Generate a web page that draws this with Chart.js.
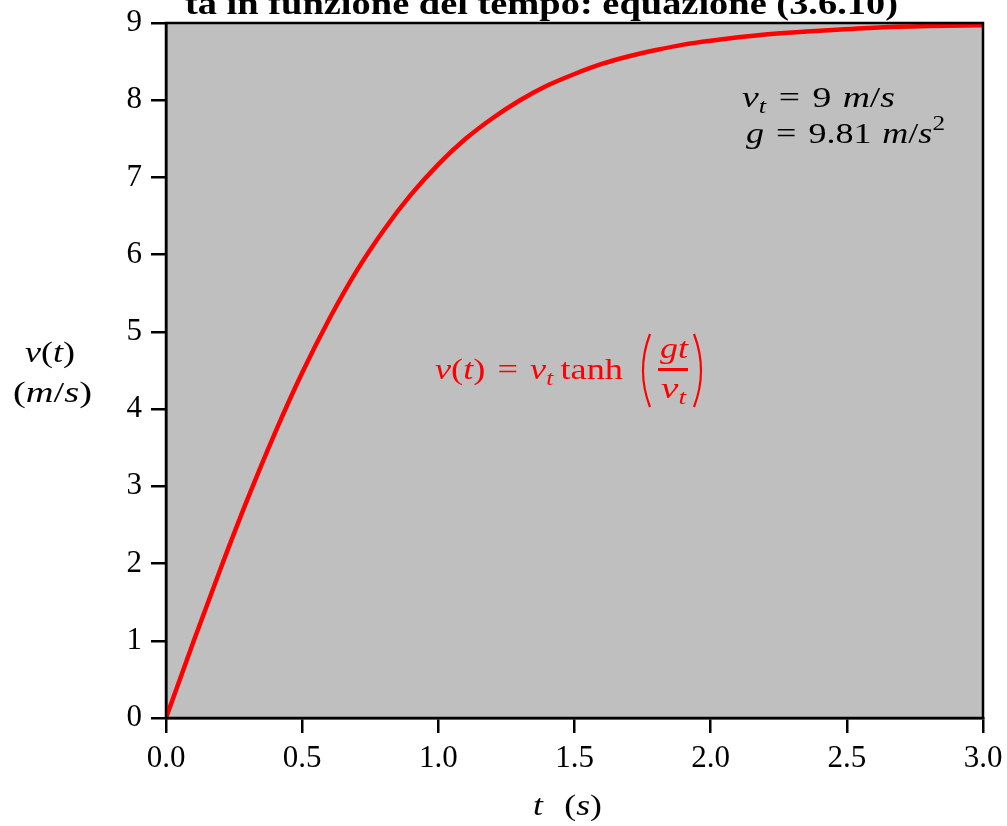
<!DOCTYPE html>
<html>
<head>
<meta charset="utf-8">
<script src="https://cdn.jsdelivr.net/npm/chart.js@4"></script>
<style>
  html, body { margin: 0; padding: 0; background: #fff; }
</style>
</head>
<body>
<canvas id="vel" width="1007" height="826"></canvas>
<script>
// values
const times = [0, 0.1, 0.2, 0.3, 0.4, 0.5, 0.6, 0.7, 0.8, 0.9, 1.0, 1.1, 1.2, 1.3, 1.4, 1.5,
  1.6, 1.7, 1.8, 1.9, 2.0, 2.2, 2.4, 2.6, 2.8, 3.0];
const speeds = [0, 0.98, 1.93, 2.84, 3.69, 4.47, 5.17, 5.79, 6.32, 6.78, 7.17, 7.50, 7.77, 8.00,
  8.19, 8.34, 8.47, 8.57, 8.65, 8.72, 8.77, 8.85, 8.90, 8.94, 8.96, 8.97];
const titleText = 'ta in funzione del tempo: equazione (3.6.10)';

const SERIF = '"Liberation Serif", "DejaVu Serif", serif';
const it = (s) => 'italic ' + s + 'px ' + SERIF;
const rm = (s) => s + 'px ' + SERIF;

// row of text pieces [text, font, dy, gapBefore], squeezed/stretched to span x0..x1
function runs(ctx, x0, x1, y, parts) {
  let w = 0;
  parts.forEach(p => { ctx.font = p[1]; w += ctx.measureText(p[0]).width + (p[3] || 0); });
  const k = (x1 - x0) / w;
  ctx.save();
  ctx.translate(x0, y);
  ctx.scale(k, 1);
  let x = 0;
  parts.forEach(p => {
    x += p[3] || 0;
    ctx.font = p[1];
    ctx.fillText(p[0], x, p[2] || 0);
    x += ctx.measureText(p[0]).width;
  });
  ctx.restore();
}

function bigParen(ctx, x, top, bot, dir) {
  // dir = 1 for '(' , -1 for ')'
  const mid = (top + bot) / 2;
  ctx.beginPath();
  ctx.moveTo(x + dir * 10, top);
  ctx.quadraticCurveTo(x - dir * 4, mid, x + dir * 10, bot);
  ctx.lineWidth = 2.2;
  ctx.stroke();
}

const decor = {
  id: 'decor',
  beforeDraw(chart) {
    const { ctx, chartArea: a } = chart;
    ctx.save();
    ctx.fillStyle = '#bfbfbf';
    ctx.fillRect(a.left, a.top, a.right - a.left, a.bottom - a.top);
    ctx.restore();
  },
  afterDraw(chart) {
    const { ctx, chartArea: a } = chart;
    ctx.save();
    ctx.strokeStyle = '#000';
    ctx.lineWidth = 2.5;
    ctx.strokeRect(a.left, a.top, a.right - a.left, a.bottom - a.top);

    ctx.fillStyle = '#000';
    ctx.textBaseline = 'alphabetic';
    ctx.textAlign = 'left';

    // title (cut off at the top)
    runs(ctx, 185, 898, 14, [[titleText, 'bold 31px ' + SERIF]]);

    // y axis label
    runs(ctx, 25, 75, 362, [['v', it(30)], ['(', rm(30)], ['t', it(30)], [')', rm(30)]]);
    runs(ctx, 13, 92, 402, [['(', rm(30)], ['m', it(30)], ['/', rm(30)], ['s', it(30)], [')', rm(30)]]);

    // x axis label
    runs(ctx, 533, 602, 815, [['t', it(30)], ['(', rm(30), 0, 18], ['s', it(30)], [')', rm(30)]]);

    // parameters
    runs(ctx, 742, 895, 107, [['v', it(30)], ['t', it(21), 6], ['=', rm(30), 0, 10], ['9', rm(30), 0, 10],
      ['m', it(30), 0, 9], ['/', rm(30)], ['s', it(30)]]);
    runs(ctx, 746, 945, 143, [['g', it(30)], ['=', rm(30), 0, 10], ['9.81', rm(30), 0, 10],
      ['m', it(30), 0, 9], ['/', rm(30)], ['s', it(30)], ['2', rm(21), -13]]);

    // red formula
    ctx.fillStyle = '#ff0000';
    ctx.strokeStyle = '#ff0000';
    runs(ctx, 435, 623, 379, [['v', it(30)], ['(', rm(30)], ['t', it(30)], [')', rm(30)], ['=', rm(30), 0, 10],
      ['v', it(30), 0, 10], ['t', it(21), 6], ['tanh', rm(30), 0, 6]]);
    bigParen(ctx, 640, 334, 407, 1);
    runs(ctx, 660, 688, 358, [['g', it(30)], ['t', it(30)]]);
    ctx.fillRect(658, 368, 30, 3);
    runs(ctx, 661, 686, 398, [['v', it(30)], ['t', it(21), 6]]);
    bigParen(ctx, 704, 334, 407, -1);
    ctx.restore();
  }
};

const ctx = document.getElementById('vel');
new Chart(ctx, {
  type: 'line',
  data: {
    datasets: [{
      data: times.map((t, i) => ({ x: t, y: speeds[i] })),
      borderColor: '#ff0000',
      borderWidth: 4.5,
      pointRadius: 0,
      cubicInterpolationMode: 'monotone',
      fill: false
    }]
  },
  plugins: [decor],
  options: {
    responsive: false,
    animation: false,
    events: [],
    layout: { padding: { top: 23, right: 24, left: 0, bottom: 0 } },
    plugins: { legend: { display: false }, tooltip: { enabled: false } },
    scales: {
      x: {
        type: 'linear',
        min: 0,
        max: 3,
        afterFit: (s) => { s.height = 108; s.paddingLeft = 0; s.paddingRight = 0; },
        ticks: {
          stepSize: 0.5,
          color: '#000',
          padding: 7,
          maxRotation: 0,
          font: { family: SERIF, size: 31 },
          callback: (v) => v.toFixed(1)
        },
        grid: { drawOnChartArea: false, drawTicks: true, tickLength: 15, color: '#000', lineWidth: 2.5 },
        border: { color: '#000', width: 2.5 }
      },
      y: {
        min: 0,
        max: 9,
        afterFit: (s) => { s.width = 166; s.paddingTop = 0; s.paddingBottom = 0; },
        ticks: {
          stepSize: 1,
          color: '#000',
          padding: 9,
          font: { family: SERIF, size: 31 }
        },
        grid: { drawOnChartArea: false, drawTicks: true, tickLength: 15, color: '#000', lineWidth: 2.5 },
        border: { color: '#000', width: 2.5 }
      }
    }
  }
});
</script>
</body>
</html>
